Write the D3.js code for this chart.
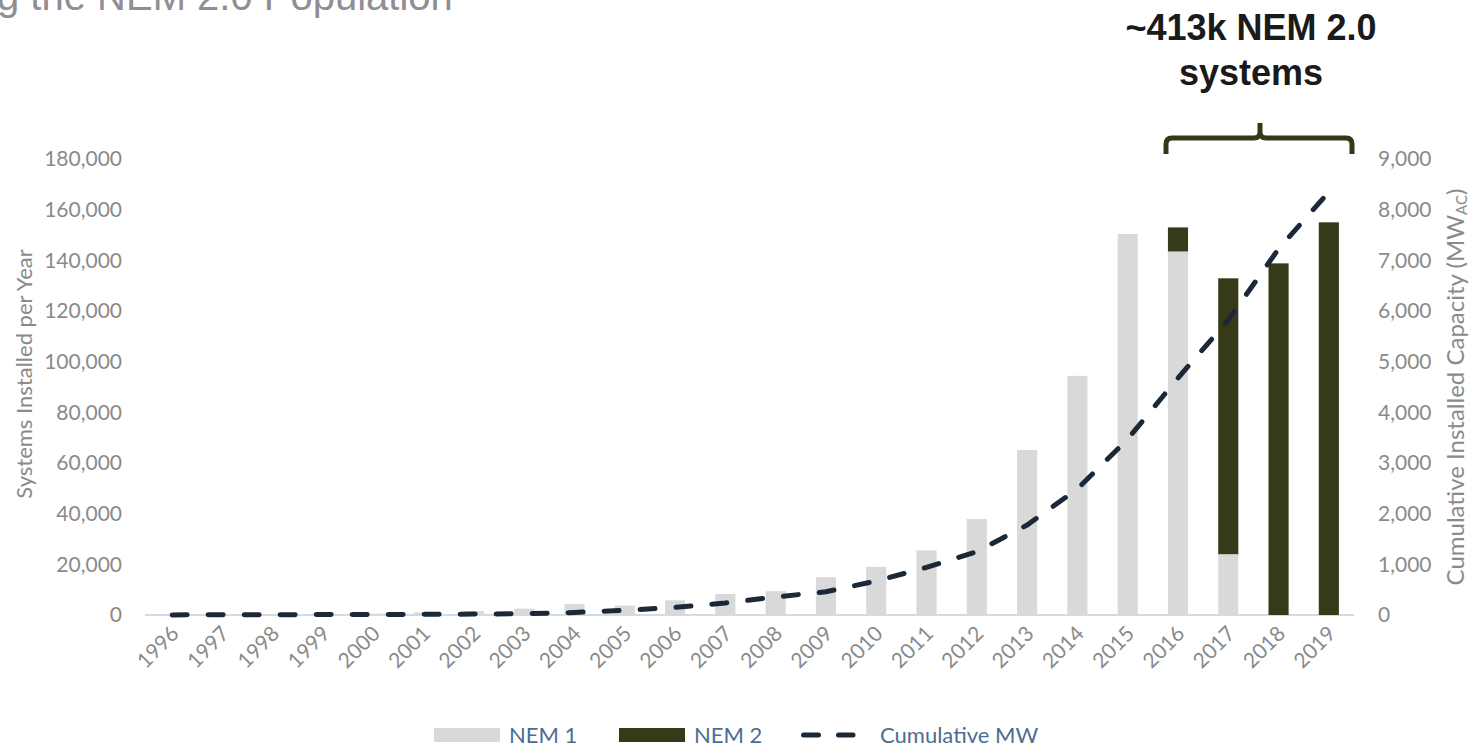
<!DOCTYPE html>
<html>
<head>
<meta charset="utf-8">
<script src="https://cdn.jsdelivr.net/npm/d3@7"></script>
<style>
  html, body { margin: 0; padding: 0; background: #ffffff; }
  svg { display: block; }
</style>
</head>
<body>
<svg id="chart" width="1473" height="747"></svg>
<script>
// Installation years
const years = ["1996","1997","1998","1999","2000","2001","2002","2003","2004","2005","2006","2007",
               "2008","2009","2010","2011","2012","2013","2014","2015","2016","2017","2018","2019"];

// Systems installed per year under NEM 1
const nem1 = [200, 300, 300, 400, 500, 1000, 1500, 2500, 4300, 3700, 5800, 8300,
              9400, 14900, 19000, 25500, 37900, 65100, 94400, 150400, 143500, 24000, 0, 0];

// Systems installed per year under NEM 2
const nem2 = [0, 0, 0, 0, 0, 0, 0, 0, 0, 0, 0, 0,
              0, 0, 0, 0, 0, 0, 0, 0, 9500, 108900, 138800, 155000];

// Cumulative installed capacity, MW-AC
const cumulativeMW = [2, 4, 6, 8, 10, 13, 18, 25, 50, 93, 150, 237,
                      355, 460, 670, 940, 1250, 1776, 2487, 3473, 4677, 5822, 7225, 8350];

// Axis tick values
const leftTicks = [0, 20000, 40000, 60000, 80000, 100000, 120000, 140000, 160000, 180000];
const rightTicks = [0, 1000, 2000, 3000, 4000, 5000, 6000, 7000, 8000, 9000];

const svg = d3.select("#chart");
const fontUI = "Lato, 'Open Sans', sans-serif";
const tickColor = "#8a8a8a";
const nem1Color = "#d9d9d9";
const nem2Color = "#373a19";
const lineColor = "#1b2837";

const plotTop = 159, plotBottom = 615;

const x = d3.scaleBand().domain(years).range([147, 1354]).paddingInner(0.6).paddingOuter(0.3);
const yL = d3.scaleLinear().domain([0, 180000]).range([plotBottom, plotTop]);
const yR = d3.scaleLinear().domain([0, 9000]).range([plotBottom, plotTop]);

// Title (runs off the left edge)
svg.append("text")
  .attr("x", -3).attr("y", 10)
  .attr("font-family", "'Liberation Sans', Arial, sans-serif")
  .attr("font-size", 40)
  .attr("fill", "#8e8e93")
  .text("g the NEM 2.0 Population");

// Left axis
const leftAxis = svg.append("g")
  .attr("transform", "translate(122,0)")
  .call(d3.axisLeft(yL).tickValues(leftTicks).tickFormat(d3.format(",")).tickSize(0).tickPadding(0));
leftAxis.select(".domain").remove();
leftAxis.selectAll("text")
  .attr("font-family", fontUI).attr("font-size", 21).attr("fill", tickColor);

// Right axis
const rightAxis = svg.append("g")
  .attr("transform", "translate(1378,0)")
  .call(d3.axisRight(yR).tickValues(rightTicks).tickFormat(d3.format(",")).tickSize(0).tickPadding(0));
rightAxis.select(".domain").remove();
rightAxis.selectAll("text")
  .attr("font-family", fontUI).attr("font-size", 21).attr("fill", tickColor);

// Axis titles
svg.append("text")
  .attr("transform", "translate(32,374) rotate(-90)")
  .attr("text-anchor", "middle")
  .attr("font-family", fontUI).attr("font-size", 22).attr("fill", tickColor)
  .text("Systems Installed per Year");

const rTitle = svg.append("text")
  .attr("transform", "translate(1464,387) rotate(-90)")
  .attr("text-anchor", "middle")
  .attr("font-family", fontUI).attr("font-size", 24).attr("fill", tickColor);
rTitle.append("tspan").text("Cumulative Installed Capacity (MW");
rTitle.append("tspan").attr("font-size", 15).attr("dy", 3).text("AC");
rTitle.append("tspan").attr("dy", -3).text(")");

// Baseline
svg.append("line")
  .attr("x1", 145).attr("x2", 1354)
  .attr("y1", yL(0)).attr("y2", yL(0))
  .attr("stroke", "#d3dbe6").attr("stroke-width", 2);

// Stacked bars
const rows = years.map((yr, i) => ({ year: yr, nem1: nem1[i], nem2: nem2[i] }));
const stack = d3.stack().keys(["nem1", "nem2"])(rows);
const colors = { nem1: nem1Color, nem2: nem2Color };

svg.append("g").selectAll("g")
  .data(stack)
  .join("g")
  .attr("fill", s => colors[s.key])
  .selectAll("rect")
  .data(s => s)
  .join("rect")
  .attr("x", d => x(d.data.year))
  .attr("width", x.bandwidth())
  .attr("y", d => yL(d[1]))
  .attr("height", d => Math.max(0, yL(d[0]) - yL(d[1])));

// Cumulative capacity line
const line = d3.line()
  .x((d, i) => x(years[i]) + x.bandwidth() / 2)
  .y(d => yR(d));

svg.append("path")
  .datum(cumulativeMW)
  .attr("d", line)
  .attr("fill", "none")
  .attr("stroke", lineColor)
  .attr("stroke-width", 5)
  .attr("stroke-linecap", "round")
  .attr("stroke-dasharray", "15,21");

// X axis labels
svg.append("g").selectAll("text")
  .data(years)
  .join("text")
  .attr("transform", d => `translate(${x(d) + x.bandwidth() / 2 + 8},${plotBottom + 20}) rotate(-45)`)
  .attr("text-anchor", "end")
  .attr("font-family", fontUI).attr("font-size", 21).attr("fill", tickColor)
  .text(d => d);

// Bracket over the NEM 2.0 years
const bx0 = 1166, bx1 = 1352, bmid = 1260, by = 138;
svg.append("path")
  .attr("d", `M${bx0},154 V${by + 6} Q${bx0},${by} ${bx0 + 6},${by} H${bmid - 6} Q${bmid},${by} ${bmid},${by - 6} V123
              M${bmid},${by - 6} Q${bmid},${by} ${bmid + 6},${by} H${bx1 - 6} Q${bx1},${by} ${bx1},${by + 6} V154`)
  .attr("fill", "none")
  .attr("stroke", "#353817")
  .attr("stroke-width", 5)
  .attr("stroke-linejoin", "round");

// Annotation
const note = svg.append("text")
  .attr("text-anchor", "middle")
  .attr("font-family", "'Liberation Sans', Arial, sans-serif")
  .attr("font-weight", "bold")
  .attr("font-size", 36)
  .attr("fill", "#1a1a1a");
note.append("tspan").attr("x", 1251).attr("y", 40).text("~413k NEM 2.0");
note.append("tspan").attr("x", 1251).attr("y", 85).text("systems");

// Legend
const legendColor = "#4d6d92";
const lg = svg.append("g");
lg.append("rect").attr("x", 434).attr("y", 728).attr("width", 66).attr("height", 14).attr("fill", nem1Color);
lg.append("text").attr("x", 509).attr("y", 743).attr("font-family", fontUI).attr("font-size", 22)
  .attr("fill", legendColor).text("NEM 1");
lg.append("rect").attr("x", 619).attr("y", 728).attr("width", 66).attr("height", 14).attr("fill", nem2Color);
lg.append("text").attr("x", 694).attr("y", 743).attr("font-family", fontUI).attr("font-size", 22)
  .attr("fill", legendColor).text("NEM 2");
lg.append("line").attr("x1", 803.5).attr("x2", 853).attr("y1", 735).attr("y2", 735)
  .attr("stroke", lineColor).attr("stroke-width", 5).attr("stroke-linecap", "round")
  .attr("stroke-dasharray", "15,20");
lg.append("text").attr("x", 880).attr("y", 743).attr("font-family", fontUI).attr("font-size", 22)
  .attr("fill", legendColor).text("Cumulative MW");
</script>
</body>
</html>
